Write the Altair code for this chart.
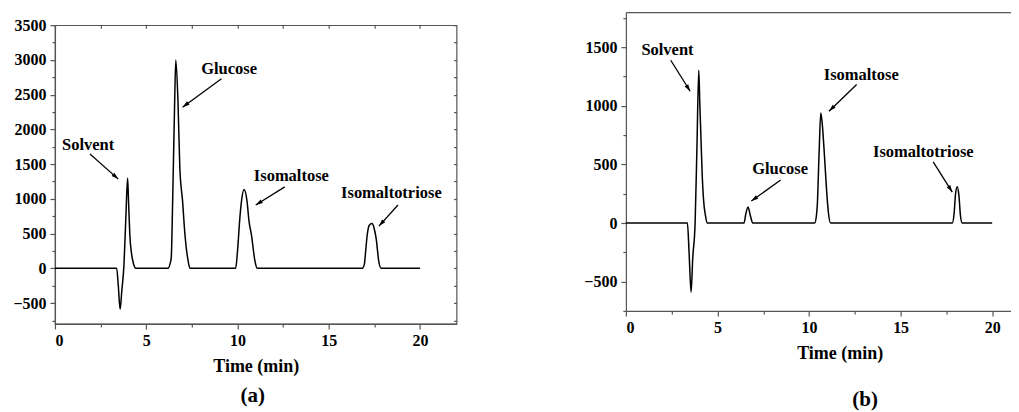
import math
import altair as alt
import pandas as pd

LABELS = ["Solvent", "Glucose", "Isomaltose", "Isomaltotriose"]

# ---------------- Panel (a) chromatogram ----------------
A_TIME = [0, 3.38, 3.47, 3.57, 3.66, 3.78, 3.88, 3.98, 4.03, 4.10, 4.20, 4.30, 4.43,
          6.20, 6.30, 6.37, 6.45, 6.55, 6.62, 6.74, 6.84, 6.99, 7.12, 7.30, 7.40,
          9.90, 10.00, 10.13, 10.22, 10.36, 10.52, 10.63, 10.76, 10.96, 11.07,
          16.84, 16.95, 17.02, 17.11, 17.22, 17.37, 17.48, 17.60, 17.74, 17.87, 20]
A_SIGNAL = [0, 0, -250, -590, -330, 50, 700, 1300, 970, 490, 200, 70, 0,
            0, 60, 150, 1000, 2300, 3000, 2400, 1450, 970, 490, 100, 0,
            0, 246, 728, 970, 1134, 970, 680, 487, 100, 0,
            0, 60, 246, 487, 620, 645, 580, 420, 100, 0, 0]

A_LAB_X = [1.82, 9.54, 12.95, 18.43]
A_LAB_Y = [1780, 2875, 1331, 1081]
A_ARR_X1 = [1.92, 9.12, 12.59, 18.79]
A_ARR_Y1 = [1645, 2730, 1172, 912]
A_ARR_X2 = [3.47, 6.99, 11.00, 17.75]
A_ARR_Y2 = [1284, 2320, 912, 608]

# ---------------- Panel (b) chromatogram ----------------
B_TIME = [0, 3.36, 3.45, 3.56, 3.65, 3.78, 3.88, 3.98, 4.04, 4.09, 4.17, 4.24, 4.35, 4.45,
          6.45, 6.55, 6.67, 6.80, 6.93,
          10.31, 10.40, 10.45, 10.55, 10.64, 10.72, 10.82, 10.95, 11.05, 11.18,
          17.82, 17.92, 18.00, 18.09, 18.18, 18.27, 18.36, 20]
B_SIGNAL = [0, 0, -250, -590, -300, 0, 650, 1305, 1000, 770, 400, 200, 60, 0,
            0, 80, 136, 60, 0,
            0, 60, 150, 600, 940, 850, 630, 300, 100, 0,
            0, 80, 250, 310, 240, 60, 0, 0]

B_LAB_X = [2.27, 8.42, 12.85, 16.24]
B_LAB_Y = [1475, 458, 1268, 608]
B_ARR_X1 = [2.45, 8.45, 12.60, 16.78]
B_ARR_Y1 = [1390, 367, 1182, 523]
B_ARR_X2 = [3.51, 6.85, 11.09, 17.82]
B_ARR_Y2 = [1125, 188, 955, 264]

FONT = "Liberation Serif"
GREY = "#555555"
ARROW_PATH = "M0,0L-0.3,1L0.3,1Z"


def steps(lo, hi, step):
    vals = []
    k = math.ceil(lo / step)
    while k * step <= hi + 1e-9:
        vals.append(round(k * step, 6))
        k += 1
    return vals


def panel(time, signal, lx, ly, x1, y1, x2, y2, xdom, ydom, w, h, framed,
          letter, letter_dx, letter_offset, title_pad, title_x=None):
    line_df = pd.DataFrame({"t": time, "s": signal})
    ann = pd.DataFrame({"label": LABELS, "lx": lx, "ly": ly,
                        "x1": x1, "y1": y1, "x2": x2, "y2": y2})
    kx = w / (xdom[1] - xdom[0])
    ky = h / (ydom[1] - ydom[0])
    ann["ang"] = [math.degrees(math.atan2((b - a) * kx, (d - c) * ky)) % 360
                  for a, b, c, d in zip(x1, x2, y1, y2)]

    xticks = steps(xdom[0], xdom[1], 2.5)
    yticks = steps(ydom[0], ydom[1], 250)
    xs = alt.Scale(domain=list(xdom), nice=False, zero=False)
    ys = alt.Scale(domain=list(ydom), nice=False, zero=False)

    tkw = dict(labelFont=FONT, labelFontSize=16, labelFontWeight="bold",
               labelColor="black", domainColor=GREY, tickColor=GREY,
               domainWidth=1.2, tickWidth=1.2, grid=False, labelPadding=4)
    bottom_kw = dict(values=xticks,
                     labelExpr="datum.value % 5 === 0 ? datum.label : ''",
                     tickSize={"condition": {"test": "datum.value % 5 === 0", "value": 5}, "value": 3},
                     title="Time (min)", titleFont=FONT, titleFontSize=18,
                     titleFontWeight="bold", titleColor="black", titlePadding=title_pad,
                     **tkw)
    if title_x is not None:
        bottom_kw["titleX"] = title_x
    bottom = alt.Axis(**bottom_kw)
    left = alt.Axis(values=yticks, format="d",
                    labelExpr="datum.value % 500 === 0 ? datum.label : ''",
                    tickSize={"condition": {"test": "datum.value % 500 === 0", "value": 5}, "value": 3},
                    title=None, **tkw)

    line = alt.Chart(line_df).mark_line(color="black", strokeWidth=1.5,
                                        interpolate="monotone").encode(
        x=alt.X("t:Q", scale=xs, axis=bottom),
        y=alt.Y("s:Q", scale=ys, axis=left))

    if framed:
        top = alt.Axis(orient="top", values=xticks, labels=False, tickSize=3, offset=-3,
                       domain=False, tickColor=GREY, tickWidth=1.2, title=None, grid=False)
        right = alt.Axis(orient="right", values=yticks, labels=False, tickSize=3,
                         offset=-3, domain=False, tickColor=GREY, tickWidth=1.2,
                         title=None, grid=False)
        frame = alt.Chart(line_df).mark_line(opacity=0).encode(
            x=alt.X("t:Q", scale=xs, axis=top),
            y=alt.Y("s:Q", scale=ys, axis=right))
    else:
        top = alt.Axis(orient="top", values=xticks, labels=False, ticks=False,
                       domain=True, domainColor=GREY, domainWidth=1.2,
                       title=None, grid=False)
        frame = alt.Chart(line_df).mark_line(opacity=0).encode(
            x=alt.X("t:Q", scale=xs, axis=top),
            y=alt.Y("s:Q", scale=ys, axis=None))

    text = alt.Chart(ann).mark_text(font=FONT, fontSize=16.5, fontWeight="bold",
                                    color="black", baseline="middle").encode(
        x=alt.X("lx:Q", scale=xs, axis=None),
        y=alt.Y("ly:Q", scale=ys, axis=None),
        text="label:N")
    rule = alt.Chart(ann).mark_rule(color="black", strokeWidth=1.3).encode(
        x=alt.X("x1:Q", scale=xs, axis=None),
        y=alt.Y("y1:Q", scale=ys, axis=None),
        x2="x2:Q", y2="y2:Q")
    heads = alt.Chart(ann).mark_point(shape=ARROW_PATH, filled=True, fill="black",
                                      strokeWidth=0, size=200, opacity=1).encode(
        x=alt.X("x2:Q", scale=xs, axis=None),
        y=alt.Y("y2:Q", scale=ys, axis=None),
        angle=alt.Angle("ang:Q", scale=None))

    view = (alt.ViewBackground(stroke=GREY, strokeWidth=1.2) if framed
            else alt.ViewBackground(stroke="transparent"))
    return alt.layer(line, frame, text, rule, heads).resolve_axis(
        x="independent", y="independent").properties(
        width=w, height=h, view=view,
        title=alt.TitleParams(letter, orient="bottom", font=FONT, fontSize=21,
                              fontWeight="bold", color="black", frame="group",
                              dx=letter_dx, offset=letter_offset))


pa = panel(A_TIME, A_SIGNAL, A_LAB_X, A_LAB_Y, A_ARR_X1, A_ARR_Y1, A_ARR_X2, A_ARR_Y2,
           (0, 22), (-800, 3500), 402, 299, True, "(a)", -3, 9, 9)
pb = panel(B_TIME, B_SIGNAL, B_LAB_X, B_LAB_Y, B_ARR_X1, B_ARR_Y1, B_ARR_X2, B_ARR_Y2,
           (0, 21.0), (-750, 1800), 385, 299, False, "(b)", 47, 26, 9, title_x=214)

# empty spacer that lowers panel (a) relative to panel (b)
spacer = alt.Chart(pd.DataFrame({"v": [0]})).mark_point(opacity=0).encode(
    x=alt.value(0), y=alt.value(0)).properties(width=402, height=1)

left_col = alt.vconcat(spacer, pa, spacing=0)

chart = alt.hconcat(left_col, pb, spacing=124.5).properties(
    padding={"left": 4, "top": 0, "right": 0, "bottom": 0},
    background="white").configure_view(stroke="transparent")

chart.save("out.html", embed_options={"renderer": "svg", "actions": False})
